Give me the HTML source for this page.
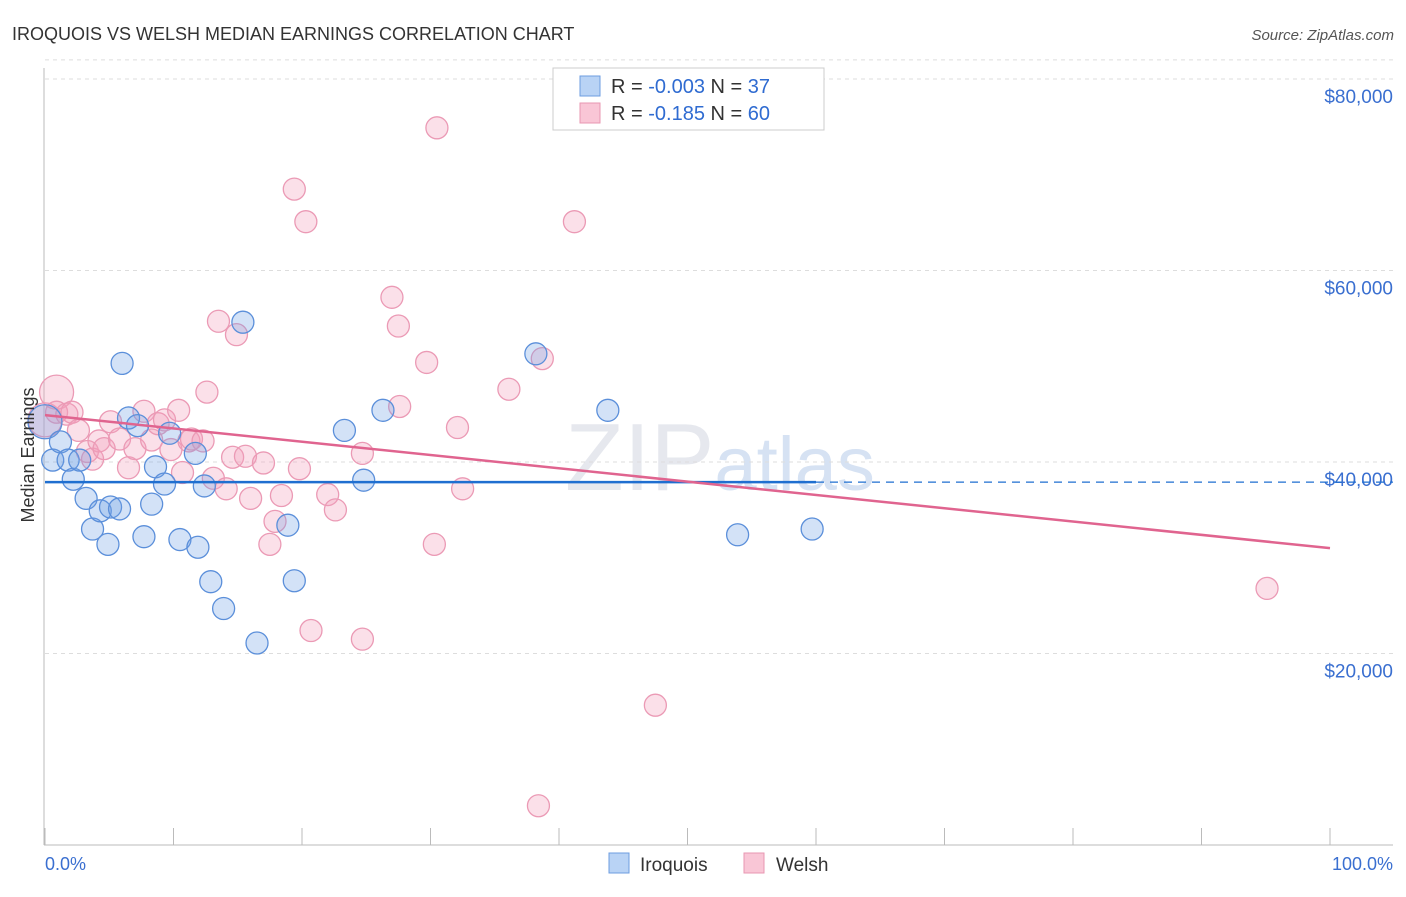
<!DOCTYPE html>
<html><head><meta charset="utf-8"><style>
body{margin:0;background:#fff;font-family:"Liberation Sans",sans-serif;}
svg text{font-family:"Liberation Sans",sans-serif;}
</style></head><body>
<svg id="c" width="1406" height="892" viewBox="0 0 1406 892">
<text x="12" y="40" font-size="18" fill="#333">IROQUOIS VS WELSH MEDIAN EARNINGS CORRELATION CHART</text>
<text x="1394" y="40" font-size="15" fill="#555" font-style="italic" text-anchor="end">Source: ZipAtlas.com</text>
<text x="720" y="490" font-size="96" fill="#e6e8ee" text-anchor="middle" font-family="Liberation Serif">ZIP<tspan fill="#d6e2f3" font-family="Liberation Sans" font-size="76">atlas</tspan></text>
<g id="grid"></g><g id="axes"></g><g id="marks"></g>
<text transform="translate(34,455) rotate(-90)" font-size="18" fill="#333" text-anchor="middle">Median Earnings</text>
<text x="45" y="870" font-size="18" fill="#3a6fd0">0.0%</text>
<text x="1393" y="870" font-size="18" fill="#3a6fd0" text-anchor="end">100.0%</text>
<g>
<rect x="553" y="68" width="271" height="62" fill="#fff" stroke="#ccc"/>
<rect x="580" y="76" width="20" height="20" fill="#b9d3f5" stroke="#6d9de0"/>
<rect x="580" y="103" width="20" height="20" fill="#f9c6d6" stroke="#e897b2"/>
<text x="611" y="93" font-size="20" fill="#333">R = <tspan fill="#2f6bd1">-0.003</tspan>   N = <tspan fill="#2f6bd1"> 37</tspan></text>
<text x="611" y="120" font-size="20" fill="#333">R = <tspan fill="#2f6bd1"> -0.185</tspan>   N = <tspan fill="#2f6bd1">60</tspan></text>
</g>
<g>
<rect x="609" y="853" width="20" height="20" fill="#b9d3f5" stroke="#6d9de0"/>
<text x="640" y="871" font-size="19" fill="#333">Iroquois</text>
<rect x="744" y="853" width="20" height="20" fill="#f9c6d6" stroke="#e897b2"/>
<text x="776" y="871" font-size="19" fill="#333">Welsh</text>
</g>
</svg>
<script>
const yTicks=[20000,40000,60000,80000];
const yTickLabels=["$20,000","$40,000","$60,000","$80,000"];
const xTicks=[0,10,20,30,40,50,60,70,80,90,100];
const iroX=[0,0.6,1.2,1.8,2.2,2.7,3.2,3.7,4.3,4.9,5.1,5.8,6.0,6.5,7.2,7.7,8.3,8.6,9.3,9.7,10.5,11.7,11.9,12.4,12.9,13.9,15.4,16.5,18.9,19.4,23.3,24.8,26.3,38.2,43.8,53.9,59.7];
const iroY=[44200,40200,42100,40200,38200,40200,36200,33000,34900,31400,35300,35100,50300,44600,43800,32200,35600,39500,37700,43000,31900,40900,31100,37500,27500,24700,54600,21100,33400,27600,43300,38100,45400,51300,45400,32400,33000];
const welX=[0,0.9,0.9,1.7,2.1,2.6,3.3,3.7,4.2,4.6,5.1,5.8,6.5,7.0,7.7,8.3,8.8,9.3,9.8,10.4,10.7,11.2,11.4,12.3,12.6,13.1,13.5,14.1,14.9,14.6,15.6,16.0,17.0,17.5,17.9,18.4,19.4,19.8,20.3,20.7,22.0,22.6,24.7,24.7,27.0,27.5,27.6,29.7,30.3,30.5,32.1,32.5,36.1,38.4,38.7,41.2,47.5,95.1];
const welY=[44400,47300,45200,45000,45200,43300,41100,40300,42200,41400,44200,42400,39400,41400,45300,42300,44000,44400,41300,45400,38900,42200,42400,42200,47300,38300,54700,37200,53300,40500,40600,36200,39900,31400,33800,36500,68500,39300,65100,22400,36600,35000,21500,40900,57200,54200,45800,50400,31400,74900,43600,37200,47600,4100,50800,65100,14600,26800];
const iroTrend=[37900,37900];
const welTrend=[44900,31000];
const X=p=>45+p*12.85, Y=v=>845-v*191.5/20000;
const NS="http://www.w3.org/2000/svg";
function mk(tag,attrs,parent){const e=document.createElementNS(NS,tag);for(const k in attrs)e.setAttribute(k,attrs[k]);document.getElementById(parent).appendChild(e);return e;}
yTicks.forEach((t,i)=>{
 const l=mk('line',{x1:45,x2:1393,y1:Y(t),y2:Y(t),stroke:'#ddd','stroke-dasharray':'4,4'},'grid');
 
 
 const tx=mk('text',{x:1393,y:Y(t)+24,'font-size':19,fill:'#3a6fd0','text-anchor':'end'},'grid');tx.textContent=yTickLabels[i];
 
 
});
const tl=mk('line',{x1:45,x2:1393,y1:Y(82000),y2:Y(82000),stroke:'#ddd','stroke-dasharray':'4,4'},'grid');


const ya=mk('line',{x1:44,x2:44,y1:68,y2:845,stroke:'#bbb'},'axes');


const xa=mk('line',{x1:44,x2:1393,y1:845,y2:845,stroke:'#bbb'},'axes');


xTicks.forEach(t=>{const l=mk('line',{x1:X(t),x2:X(t),y1:828,y2:845,stroke:'#bbb'},'axes');
 
 });
function dots(xs,ys,fill,stroke,name){xs.forEach((x,i)=>{const r=(i===0||(name==='welsh-point'&&i===1))?17:11;
 const c=mk('circle',{cx:X(x),cy:Y(ys[i]),r:r,fill:fill,stroke:stroke,'stroke-width':1.3},'marks');
 
 });}
dots(welX,welY,'rgba(244,160,188,0.32)','#eb9ab5','welsh-point');
dots(iroX,iroY,'rgba(110,160,230,0.3)','#5b8fda','iroquois-point');
const b1=mk('line',{x1:X(0),x2:X(60),y1:Y(iroTrend[0]),y2:Y(iroTrend[0]+(iroTrend[1]-iroTrend[0])*0.6),stroke:'#1f6fd0','stroke-width':2.5},'marks');


const b2=mk('line',{x1:X(60),x2:1393,y1:Y(iroTrend[0]+(iroTrend[1]-iroTrend[0])*0.6),y2:Y(iroTrend[1]),stroke:'#1f6fd0','stroke-width':1.3,'stroke-dasharray':'8,6'},'marks');


const p1=mk('line',{x1:X(0),x2:X(100),y1:Y(welTrend[0]),y2:Y(welTrend[1]),stroke:'#e0648f','stroke-width':2.5},'marks');


</script>
</body></html>
